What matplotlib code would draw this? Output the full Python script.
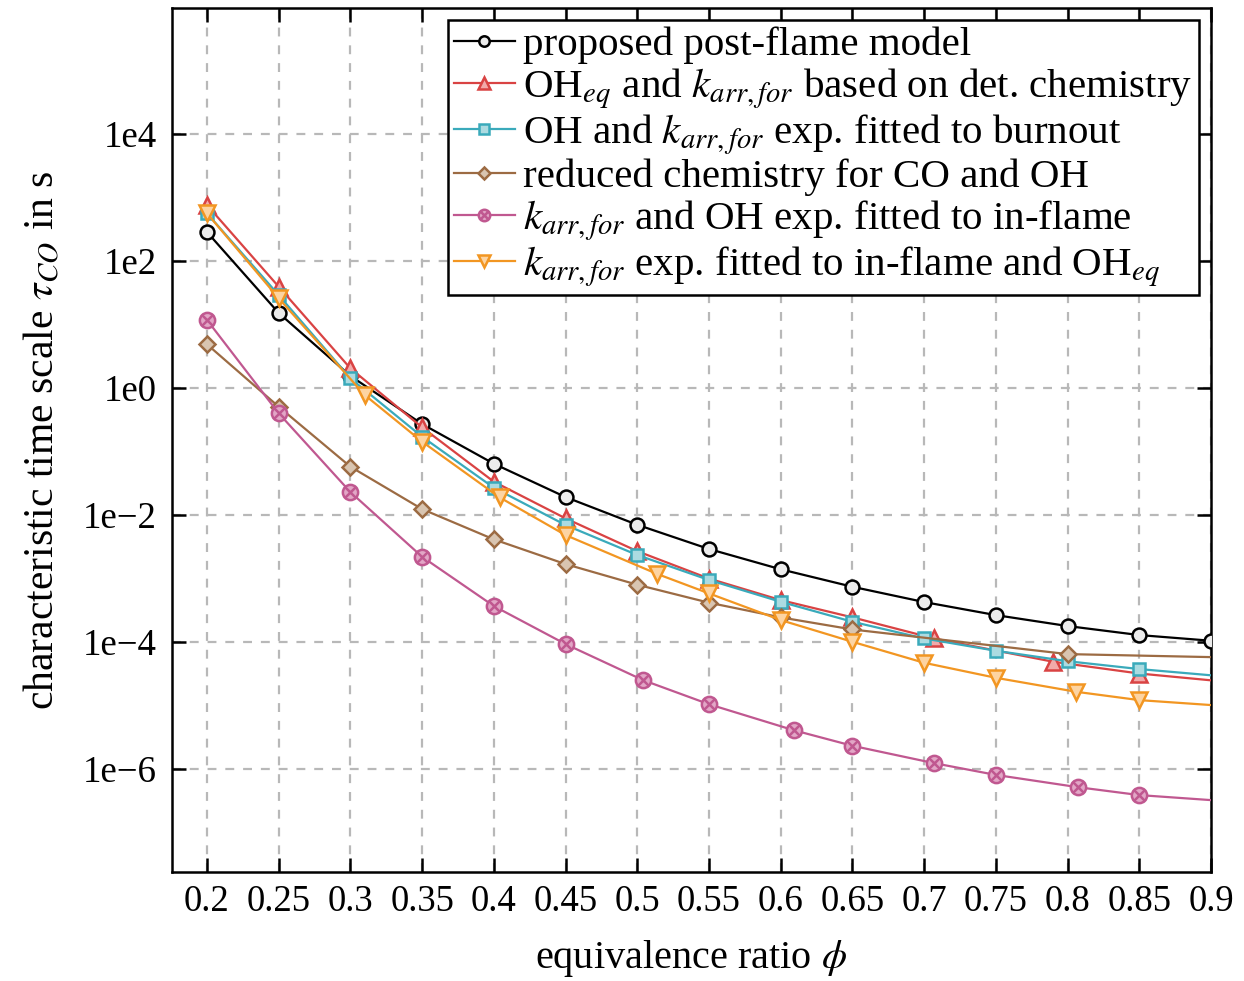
import numpy as np
import matplotlib
matplotlib.use("Agg")
import matplotlib.pyplot as plt
from matplotlib.path import Path

# ---------------- data ----------------
phi_ticks = [0.2, 0.25, 0.3, 0.35, 0.4, 0.45, 0.5, 0.55, 0.6, 0.65, 0.7, 0.75, 0.8, 0.85, 0.9]
phi_tick_labels = ["0.2", "0.25", "0.3", "0.35", "0.4", "0.45", "0.5", "0.55", "0.6",
                   "0.65", "0.7", "0.75", "0.8", "0.85", "0.9"]
tau_ticks = [1e-6, 1e-4, 1e-2, 1e0, 1e2, 1e4]
tau_tick_labels = ["1e\u22126", "1e\u22124", "1e\u22122", "1e0", "1e2", "1e4"]

phi_post = [0.2, 0.25, 0.3, 0.35, 0.4, 0.45, 0.5, 0.55, 0.6, 0.65, 0.7, 0.75, 0.8, 0.85, 0.9]
tau_post = [286, 15.2, 1.55, 0.271, 0.0643, 0.0192, 7.03e-3, 2.92e-3, 1.40e-3, 7.43e-4,
            4.27e-4, 2.66e-4, 1.79e-4, 1.29e-4, 1.05e-4]

phi_det = [0.2, 0.25, 0.3, 0.35, 0.4, 0.45, 0.5, 0.55, 0.6, 0.65, 0.707, 0.79, 0.85, 0.9]
tau_det = [760, 39.4, 2.04, 0.24, 0.0335, 8.87e-3, 2.7e-3, 1.0e-3, 4.58e-4, 2.45e-4,
           1.14e-4, 4.9e-5, 3.2e-5, 2.5e-5]

phi_burn = [0.2, 0.25, 0.3, 0.35, 0.4, 0.45, 0.5, 0.55, 0.6, 0.65, 0.7, 0.75, 0.8, 0.85, 0.9]
tau_burn = [564, 29.0, 1.42, 0.171, 0.0269, 6.96e-3, 2.35e-3, 9.5e-4, 4.31e-4, 2.09e-4,
            1.14e-4, 7.3e-5, 5.0e-5, 3.76e-5, 3.0e-5]

phi_red = [0.2, 0.25, 0.3, 0.35, 0.4, 0.45, 0.5, 0.55, 0.6, 0.65, 0.8, 0.9]
tau_red = [4.88, 0.508, 0.0577, 0.0124, 4.14e-3, 1.69e-3, 8.0e-4, 4.17e-4, 2.45e-4,
           1.58e-4, 6.47e-5, 5.8e-5]

phi_infl = [0.2, 0.25, 0.3, 0.35, 0.4, 0.45, 0.504, 0.55, 0.609, 0.65, 0.707, 0.75, 0.807, 0.85, 0.9]
tau_infl = [11.8, 0.40, 0.023, 2.2e-3, 3.69e-4, 9.3e-5, 2.52e-5, 1.05e-5, 4.1e-6, 2.33e-6,
            1.24e-6, 8.1e-7, 5.2e-7, 3.9e-7, 3.25e-7]

phi_infl_eq = [0.2, 0.25, 0.31, 0.35, 0.404, 0.45, 0.514, 0.55, 0.6, 0.65, 0.7, 0.75, 0.806, 0.85, 0.9]
tau_infl_eq = [564, 25.9, 0.776, 0.143, 0.019, 4.84e-3, 1.18e-3, 5.84e-4, 2.22e-4, 1.01e-4,
               4.72e-5, 2.74e-5, 1.65e-5, 1.22e-5, 1.02e-5]

labels = [
    "proposed post-flame model",
    r"OH$_{eq}$ and $k_{arr,for}$ based on det. chemistry",
    r"OH and $k_{arr,for}$ exp. fitted to burnout",
    "reduced chemistry for CO and OH",
    r"$k_{arr,for}$ and OH exp. fitted to in-flame",
    r"$k_{arr,for}$ exp. fitted to in-flame and OH$_{eq}$",
]

# ---------------- style ----------------
plt.rcParams["font.family"] = ["Liberation Serif", "DejaVu Serif"]
plt.rcParams["mathtext.fontset"] = "stix"
plt.rcParams["font.size"] = 26

circ = Path.unit_circle()
d = 0.7071
cross_marker = Path.make_compound_path(
    circ,
    Path([[-d, -d], [d, d]]),
    Path([[-d, d], [d, -d]]),
)

fig = plt.figure(figsize=(12.44, 9.81), dpi=100)
ax = fig.add_axes([172 / 1244, 1 - 872 / 981, (1211 - 172) / 1244, (872 - 8) / 981])

lw = 1.6
mew = 1.8
series = [
    (phi_post, tau_post, "o", 10, "black", "#ececec", None),
    (phi_det, tau_det, "^", 11.5, "#d94343", "#f2aaaa", list(range(len(phi_det) - 1))),
    (phi_burn, tau_burn, "s", 9, "#3aaabb", "#acdbe1", list(range(len(phi_burn) - 1))),
    (phi_red, tau_red, "D", 8.5, "#9c6b43", "#d9c5b1", list(range(len(phi_red) - 1))),
    (phi_infl, tau_infl, cross_marker, 11, "#c05890", "#e2a6c6", list(range(len(phi_infl) - 1))),
    (phi_infl_eq, tau_infl_eq, "v", 11.5, "#f29622", "#fdd4a2", list(range(len(phi_infl_eq) - 1))),
]

for (x, y, m, ms, ec, fc, mev), lab in zip(series, labels):
    ax.plot(x, y, color=ec, lw=lw, marker=m, ms=ms, mec=ec, mfc=fc, mew=mew,
            markevery=mev, label=lab, zorder=3)

ax.set_yscale("log")
ax.set_xlim(0.1756, 0.9)
ax.set_ylim(10 ** -7.62, 10 ** 5.984)

ax.set_xticks(phi_ticks)
ax.set_xticklabels(phi_tick_labels)
ax.set_yticks(tau_ticks)
ax.set_yticklabels(tau_tick_labels)
ax.minorticks_off()

ax.tick_params(direction="in", length=10, width=1.8, top=True, right=True,
               labelsize=26.5, color="black")
ax.tick_params(axis="x", pad=9)
ax.tick_params(axis="y", pad=11)
for s in ax.spines.values():
    s.set_linewidth(1.8)

ax.grid(True, which="major", color="#b8b8b8", linestyle=(0, (4, 4)), linewidth=1.6, zorder=0)

ax.set_xlabel(r"equivalence ratio $\phi$", fontsize=29, labelpad=14)
ax.set_ylabel(r"characteristic time scale $\tau_{CO}$ in s", fontsize=30, labelpad=14)

leg = ax.legend(loc="upper right", fontsize=29.5, frameon=True, fancybox=False,
                edgecolor="black", framealpha=1, handlelength=1.5, handletextpad=0.2,
                labelspacing=0.04, borderpad=0.15, borderaxespad=0.3, markerscale=0.75)
leg.get_frame().set_linewidth(1.8)

fig.savefig("out.png", dpi=100)
